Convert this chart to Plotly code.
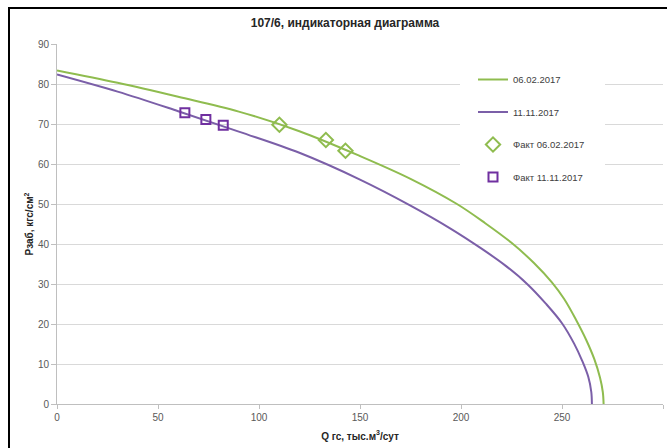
import plotly.graph_objects as go

# Curve 06.02.2017
q_0602 = [0, 30, 60, 90, 120, 150, 175, 198, 212, 225, 236, 245, 251, 257, 262, 266, 268.8, 270.2, 270.6]
p_0602 = [83.4, 80.3, 76.8, 73.1, 68.2, 62.0, 56.3, 50.0, 45.2, 40.3, 35.3, 30.4, 26.3, 21.0, 16.0, 11.2, 6.6, 3.0, 0.0]

# Curve 11.11.2017
q_1111 = [0, 30, 60, 90, 120, 150, 175, 195, 210, 222, 233, 242, 250, 256, 260, 263, 264.5, 264.8]
p_1111 = [82.4, 78.1, 73.2, 68.1, 62.8, 56.1, 49.6, 43.8, 38.9, 34.6, 29.9, 25.1, 20.2, 15.1, 10.8, 6.8, 3.0, 0.0]

# Measured points
fq_0602 = [110.1, 133.1, 142.8]
fp_0602 = [69.8, 66.0, 63.3]
fq_1111 = [63.3, 73.7, 82.3]
fp_1111 = [72.8, 71.1, 69.7]

names = ["06.02.2017", "11.11.2017", "Факт 06.02.2017", "Факт 11.11.2017"]
title_text = "107/6, индикаторная диаграмма"
x_title = "Q гс, тыс.м<sup>3</sup>/сут"
y_title = "Рзаб, кгс/см<sup>2</sup>"

GREEN = "#8FBC4F"
PURPLE_LINE = "#7B5FA8"
PURPLE_MK = "#7030A0"
FONT = "Liberation Sans Narrow, Liberation Sans, Arial, sans-serif"

fig = go.Figure()
fig.add_trace(go.Scatter(x=q_0602, y=p_0602, mode="lines", name=names[0],
                         line=dict(color=GREEN, width=2, shape="spline", smoothing=1.0),
                         legendgroup="a"))
fig.add_trace(go.Scatter(x=q_1111, y=p_1111, mode="lines", name=names[1],
                         line=dict(color=PURPLE_LINE, width=2, shape="spline", smoothing=1.0),
                         legendgroup="b"))
fig.add_trace(go.Scatter(x=fq_0602, y=fp_0602, mode="markers", name=names[2],
                         marker=dict(symbol="diamond-open", size=11, color=GREEN,
                                     line=dict(width=2, color=GREEN)),
                         legendgroup="c"))
fig.add_trace(go.Scatter(x=fq_1111, y=fp_1111, mode="markers", name=names[3],
                         marker=dict(symbol="square-open", size=9, color=PURPLE_MK,
                                     line=dict(width=2, color=PURPLE_MK)),
                         legendgroup="d"))

W, H = 667, 448
L, R, T, B = 57, 4, 44, 44
pw, ph = W - L - R, H - T - B

def px2paper_x(px):
    return (px - L) / pw

def px2paper_y(py):
    return (H - B - py) / ph

fig.update_layout(
    width=W, height=H,
    margin=dict(l=L, r=R, t=T, b=B, autoexpand=False),
    paper_bgcolor="white", plot_bgcolor="white",
    font=dict(family=FONT, size=10, color="#595959"),
    title=dict(text="<b>" + title_text + "</b>", x=px2paper_x(345), xref="paper",
               xanchor="center", y=1 - 23 / H, yanchor="middle",
               font=dict(size=12, color="#262626", family=FONT)),
    xaxis=dict(range=[0, 300], dtick=50, showgrid=False, zeroline=False,
               showline=True, linecolor="#BFBFBF", linewidth=1,
               ticks="outside", ticklen=4, tickcolor="#BFBFBF",
               tickfont=dict(size=10, color="#595959"),
               title=dict(text="<b>" + x_title + "</b>", standoff=10,
                          font=dict(size=10, color="#262626")),
               fixedrange=True),
    yaxis=dict(range=[0, 90], dtick=10, showgrid=True, gridcolor="#D9D9D9",
               gridwidth=1, zeroline=False,
               showline=True, linecolor="#BFBFBF", linewidth=1,
               ticks="outside", ticklen=5, tickcolor="#BFBFBF",
               tickfont=dict(size=10, color="#595959"),
               title=dict(text="<b>" + y_title + "</b>", standoff=2,
                          font=dict(size=10, color="#262626")),
               fixedrange=True),
    legend=dict(x=px2paper_x(473), y=px2paper_y(65), xanchor="left", yanchor="top",
                bgcolor="rgba(0,0,0,0)", borderwidth=0,
                font=dict(size=9.5, color="#404040"),
                tracegroupgap=13.5, itemwidth=30),
    showlegend=True,
    shapes=[
        dict(type="rect", xref="paper", yref="paper",
             x0=px2paper_x(460), x1=px2paper_x(605),
             y0=px2paper_y(198), y1=px2paper_y(58),
             fillcolor="white", line=dict(width=0), layer="above"),
        dict(type="rect", xref="paper", yref="paper",
             x0=px2paper_x(9), x1=px2paper_x(700),
             y0=px2paper_y(470), y1=px2paper_y(8),
             fillcolor="rgba(0,0,0,0)", line=dict(color="black", width=2), layer="above"),
    ],
)

fig.write_html("out.html")
